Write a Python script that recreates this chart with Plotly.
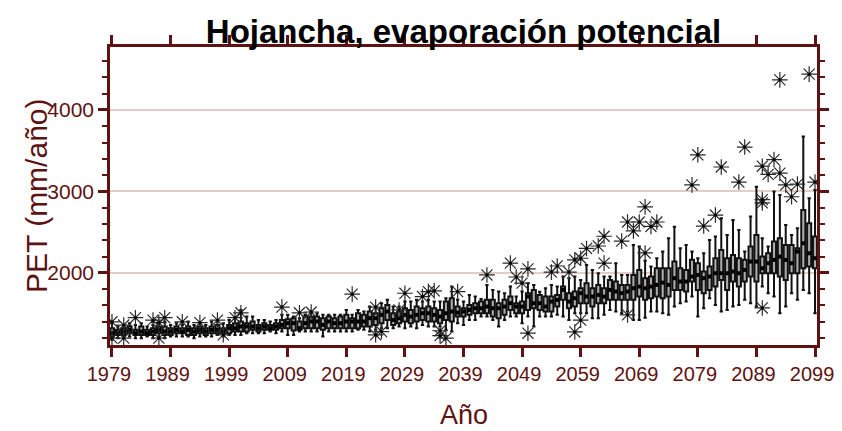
import plotly.graph_objects as go

# years 1979..2099
years = list(range(1979, 2100))

# box statistics per year (mm/año)
q1 = [1219, 1239, 1239, 1260, 1239, 1239, 1239, 1239, 1260, 1239,
      1239, 1260, 1260, 1239, 1239, 1260, 1239, 1260, 1260, 1260,
      1260, 1280, 1280, 1280, 1301, 1280, 1301, 1301, 1301,
      1321, 1321, 1293, 1301, 1321, 1321, 1321, 1301, 1321, 1321,
      1321, 1321, 1321, 1321, 1342, 1342, 1362, 1383, 1423, 1362,
      1383, 1403, 1383, 1403, 1423, 1403, 1403, 1383, 1423, 1403,
      1464, 1464, 1485, 1505, 1505, 1505, 1464, 1444, 1485, 1546,
      1505, 1505, 1546, 1566, 1546, 1526, 1526, 1587, 1669, 1566,
      1587, 1628, 1628, 1587, 1628, 1628, 1669, 1669, 1669, 1669,
      1669, 1710,
      1669, 1689, 1710, 1689, 1710, 1791, 1791, 1771, 1894, 1791,
      1751, 1791, 1832, 1914, 1791, 1894, 1832, 1894, 1955, 1894,
      1996, 1996, 1996, 1955, 1914, 1996, 1996, 2057, 2078, 2057]
median = [1260, 1260, 1280, 1301, 1260, 1280, 1260, 1280, 1301, 1280,
          1280, 1301, 1280, 1301, 1280, 1301, 1280, 1301, 1301, 1280,
          1321, 1321, 1342, 1342, 1342, 1321, 1342, 1321, 1342,
          1362, 1383, 1383, 1321, 1383, 1403, 1403, 1362, 1403, 1383,
          1383, 1403, 1403, 1403, 1403, 1444, 1444, 1485, 1526, 1423,
          1444, 1485, 1464, 1485, 1505, 1505, 1485, 1464, 1505, 1526,
          1513, 1526, 1546, 1566, 1566, 1587, 1566, 1566, 1587, 1628,
          1587, 1587, 1710, 1628, 1628, 1587, 1648, 1669, 1791, 1648,
          1689, 1751, 1710, 1710, 1730, 1710, 1791, 1771, 1751, 1771,
          1812, 1832,
          1812, 1832, 1853, 1881, 1853, 1935, 1894, 1894, 1955, 1975,
          1935, 1955, 1996, 1996, 1996, 2016, 1996, 2037, 2139, 2139,
          2057, 2119, 2160, 2200, 2160, 2119, 2262, 2364, 2241, 2180]
q3 = [1321, 1301, 1321, 1342, 1301, 1342, 1301, 1321, 1342, 1342,
      1321, 1342, 1321, 1342, 1321, 1342, 1321, 1342, 1362, 1321,
      1362, 1383, 1403, 1383, 1403, 1362, 1383, 1362, 1383,
      1423, 1432, 1444, 1403, 1464, 1464, 1464, 1444, 1464, 1444,
      1464, 1485, 1444, 1505, 1485, 1526, 1505, 1567, 1607, 1505,
      1526, 1567, 1546, 1587, 1567, 1587, 1567, 1546, 1648, 1689,
      1587, 1566, 1607, 1628, 1648, 1669, 1669, 1628, 1669, 1710,
      1628, 1648, 1751, 1791, 1730, 1710, 1710, 1730, 1832, 1751,
      1771, 1812, 1873, 1812, 1853, 1812, 1914, 1894, 1853, 1853,
      1975, 2037,
      1935, 1955, 2057, 2057, 2057, 2139, 2057, 2037, 2160, 2119,
      2016, 2078, 2180, 2282, 2180, 2221, 2180, 2160, 2323, 2466,
      2200, 2241, 2384, 2425, 2344, 2344, 2303, 2773, 2609, 2446]
lo_fence = [1178, 1199, 1199, 1219, 1199, 1199, 1219, 1199, 1219, 1199,
            1219, 1219, 1219, 1219, 1199, 1219, 1219, 1219, 1239, 1219,
            1239, 1239, 1239, 1260, 1260, 1260, 1260, 1280, 1260,
            1280, 1239, 1239, 1280, 1280, 1280, 1280, 1219, 1280, 1280,
            1280, 1280, 1280, 1301, 1301, 1280, 1301, 1321, 1321, 1321,
            1342, 1321, 1342, 1321, 1362, 1342, 1342, 1342, 1301, 1280,
            1382, 1362, 1423, 1423, 1464, 1464, 1423, 1341, 1423, 1464,
            1464, 1382, 1464, 1341, 1464, 1464, 1464, 1485, 1464, 1423,
            1505, 1505, 1505, 1444, 1444, 1485, 1546, 1526, 1505, 1526,
            1423, 1423,
            1450, 1526, 1526, 1505, 1485, 1587, 1628, 1648, 1710, 1464,
            1566, 1689, 1607, 1526, 1546, 1587, 1607, 1669, 1628, 1587,
            1832, 1751, 1710, 1505, 1587, 1751, 1669, 1791, 1751, 1505]
hi_fence = [1383, 1342, 1362, 1383, 1362, 1383, 1342, 1362, 1383, 1403,
            1362, 1383, 1362, 1403, 1362, 1383, 1362, 1403, 1403, 1383,
            1423, 1444, 1546, 1464, 1464, 1423, 1423, 1403, 1423,
            1485, 1485, 1464, 1444, 1485, 1526, 1505, 1485, 1485, 1485,
            1485, 1546, 1485, 1546, 1526, 1587, 1587, 1628, 1669, 1587,
            1587, 1648, 1648, 1669, 1648, 1669, 1648, 1648, 1689, 1832,
            1669, 1648, 1730, 1710, 1680, 1853, 1791, 1771, 1751, 1832,
            1710, 1771, 1873, 1853, 1770, 1812, 1853, 1832, 1955, 1934,
            1955, 1914, 2098, 2037, 1996, 1955, 1955, 2119, 1975, 1975,
            2344, 2323,
            2150, 2078, 2180, 2262, 2425, 2568, 2303, 2344, 2262, 2180,
            2241, 2405, 2446, 2671, 2466, 2650, 2528, 2262, 2691, 3059,
            2425, 2323, 2998, 2957, 2587, 2466, 2548, 3673, 2916, 3018]

# outliers (year, value)
out_year = [1979, 1979, 1981, 1981, 1983, 1986, 1987, 1988, 1987, 1991,
            1994, 1997, 1998, 2000, 2001, 2008, 2011, 2013, 2020, 2024,
            2024, 2025, 2028, 2029, 2032, 2033, 2034, 2035, 2035, 2036,
            2038, 2043, 2047, 2048, 2049, 2050, 2050, 2054, 2055, 2057,
            2058, 2059, 2058, 2059, 2060, 2062, 2063, 2063, 2066, 2067,
            2068, 2069, 2070, 2067, 2071, 2072, 2070, 2078, 2079, 2080,
            2082, 2083, 2086, 2087, 2090, 2090, 2090, 2091, 2092, 2093,
            2094, 2095, 2096, 2093, 2098, 2099, 2090]
out_val = [1400, 1200, 1360, 1200, 1450, 1420, 1390, 1450, 1200, 1400,
           1390, 1420, 1240, 1450, 1510, 1580, 1510, 1520, 1740, 1580,
           1240, 1280, 1545, 1750, 1710, 1770, 1780, 1290, 1230, 1200,
           1770, 1975, 2120, 1950, 1875, 2050, 1260, 2010, 2085, 2010,
           2160, 2180, 1275, 1420, 2300, 2330, 2450, 2120, 2390, 2625,
           2515, 2625, 2810, 1485, 2570, 2625, 2245, 3080, 3450, 2575,
           2710, 3300, 3115, 3545, 3310, 2860, 2900, 3210, 3390, 3225,
           3080, 2935, 3090, 4370, 4440, 3115, 1570]

x_ticks = list(range(1979, 2100, 10))

MAROON = "#5e1212"
FONT = "Liberation Sans, Arial, sans-serif"

# the page body adds an 8px offset, so the figure is sized to fill the rest
W, H = 834, 423
L, R, T, B = 102, 25, 39, 86

fig = go.Figure()

fig.add_trace(go.Box(
    x=years, q1=q1, median=median, q3=q3,
    lowerfence=lo_fence, upperfence=hi_fence,
    boxpoints=False,
    width=0.7,
    whiskerwidth=0.8,
    fillcolor="#ababab",
    line=dict(color="#111111", width=2),
    showlegend=False,
    hoverinfo="skip"))

fig.add_trace(go.Scatter(
    x=years, y=median, mode="markers",
    marker=dict(symbol="square", size=4, color="#000000"),
    showlegend=False, hoverinfo="skip"))

fig.add_trace(go.Scatter(
    x=out_year, y=out_val, mode="markers",
    marker=dict(symbol="asterisk-open", size=13, color="#2a2a2a",
                line=dict(color="#2a2a2a", width=1.2)),
    showlegend=False))

fig.add_trace(go.Scatter(
    x=out_year, y=out_val, mode="markers",
    marker=dict(symbol="circle", size=3, color="#000000"),
    showlegend=False, hoverinfo="skip"))

plot_w = W - L - R
plot_h = H - T - B

fig.update_layout(
    width=W, height=H,
    margin=dict(l=L, r=R, t=T, b=B),
    plot_bgcolor="white",
    paper_bgcolor="white",
    title=dict(text="<b>Hojancha, evaporación potencial</b>",
               x=0.5, xref="paper", xanchor="center",
               y=1 - 23 / H, yref="container", yanchor="middle",
               font=dict(family=FONT, size=33, color="#000000")),
    font=dict(family=FONT, color=MAROON),
    annotations=[
        dict(text="Año", x=0.5, xref="paper", xanchor="center",
             y=-70 / plot_h, yref="paper", yanchor="middle",
             showarrow=False,
             font=dict(family=FONT, size=27, color=MAROON)),
        dict(text="PET (mm/año)", x=(28 - L) / plot_w, xref="paper",
             xanchor="center", y=0.5, yref="paper", yanchor="middle",
             showarrow=False, textangle=-90,
             font=dict(family=FONT, size=30, color=MAROON)),
    ])

fig.update_xaxes(
    range=[1978.66, 2099.34],
    tickmode="array", tickvals=x_ticks, tickangle=0,
    ticks="outside", ticklen=9, tickwidth=2.5, tickcolor=MAROON,
    ticklabelshift=-3,
    showline=True, linecolor=MAROON, linewidth=2.5, mirror="allticks",
    showgrid=False, zeroline=False, automargin=False,
    tickfont=dict(family=FONT, size=20, color=MAROON))

fig.update_yaxes(
    range=[1115, 4773],
    tick0=0, dtick=1000,
    ticks="outside", ticklen=9, tickwidth=2.5, tickcolor=MAROON,
    minor=dict(dtick=200, tick0=0, ticks="outside", ticklen=5,
               tickwidth=2, tickcolor=MAROON, showgrid=False),
    showline=True, linecolor=MAROON, linewidth=2.5, mirror="allticks",
    showgrid=True, gridcolor="#e2cccc", gridwidth=2, zeroline=False,
    automargin=False,
    tickfont=dict(family=FONT, size=21, color=MAROON))

fig.write_html("out.html")
